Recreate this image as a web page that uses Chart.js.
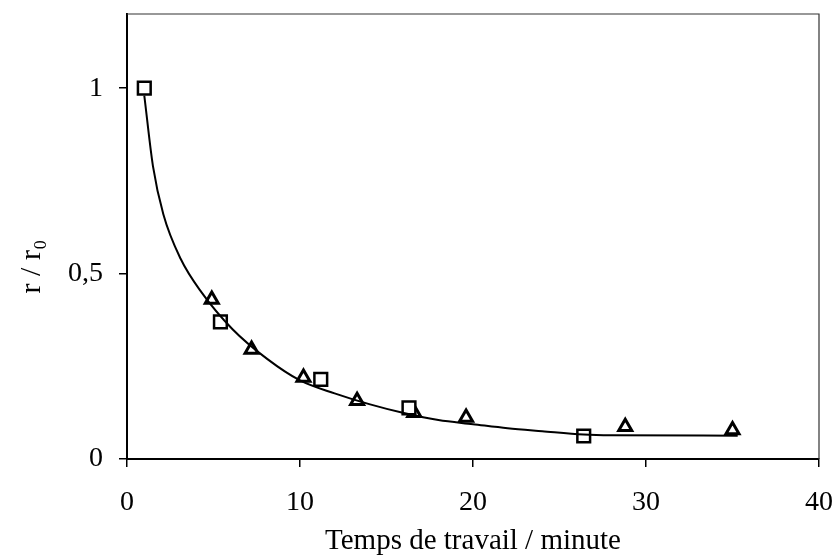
<!DOCTYPE html>
<html>
<head>
<meta charset="utf-8">
<script src="https://cdn.jsdelivr.net/npm/chart.js@4"></script>
<style>
  body { margin: 0; background: #fff; }
  #wrap { width: 834px; height: 559px; }
</style>
</head>
<body>
<div id="wrap"><canvas id="chartrendement"></canvas></div>
<script>
// points
const squareX = [1.0, 5.4, 11.2, 16.3, 26.4];
const squareY = [1.0, 0.37, 0.215, 0.138, 0.062];
const triangleX = [4.9, 7.2, 10.2, 13.3, 16.6, 19.6, 28.8, 35.0];
const triangleY = [0.43, 0.295, 0.22, 0.157, 0.125, 0.112, 0.087, 0.078];
// courbe d'ajustement
const curveX = [1.0, 1.5, 2.1, 3.1, 4.3, 6.1, 8.1, 10.0, 12.0, 14.0, 16.0, 18.0, 20.0, 22.0, 24.0, 26.4, 28.0, 35.3];
const curveY = [0.98, 0.79, 0.66, 0.54, 0.45, 0.35, 0.27, 0.212, 0.177, 0.148, 0.124, 0.105, 0.094, 0.083, 0.075, 0.066, 0.064, 0.063];
const xTicks = [0, 10, 20, 30, 40];
const yTicks = [0, 0.5, 1];

const pts = (xs, ys) => xs.map((x, i) => ({ x: x, y: ys[i] }));
const serif = 'Liberation Serif';

// pas de marge auto pour les labels qui depassent
const noPad = s => { s.paddingTop = 0; s.paddingBottom = 0; s.paddingLeft = 0; s.paddingRight = 0; };

// cadre haut / droite
const boxPlugin = {
    id: 'box',
    afterDraw(chart) {
        const a = chart.chartArea;
        const c = chart.ctx;
        c.save();
        c.strokeStyle = '#333';
        c.lineWidth = 1.2;
        c.beginPath();
        c.moveTo(a.left, a.top);
        c.lineTo(a.right, a.top);
        c.lineTo(a.right, a.bottom);
        c.stroke();
        c.restore();
    }
};

document.addEventListener('DOMContentLoaded', () => {
    const ctx = document.getElementById('chartrendement');

    new Chart(ctx, {
        type: 'scatter',
        data: {
            datasets: [
                {
                    label: 'ajustement',
                    type: 'line',
                    data: pts(curveX, curveY),
                    borderColor: '#000',
                    borderWidth: 2,
                    pointRadius: 0,
                    cubicInterpolationMode: 'monotone',
                    fill: false
                },
                {
                    label: 'carrés',
                    data: pts(squareX, squareY),
                    pointStyle: 'rect',
                    pointRadius: 9,
                    borderColor: '#000',
                    backgroundColor: '#fff',
                    borderWidth: 2.5
                },
                {
                    label: 'triangles',
                    data: pts(triangleX, triangleY),
                    pointStyle: 'triangle',
                    pointRadius: 7.5,
                    borderColor: '#000',
                    backgroundColor: '#fff',
                    borderWidth: 3
                }
            ]
        },
        options: {
            responsive: true,
            maintainAspectRatio: false,
            animation: false,
            layout: { padding: { top: 14, right: 15, left: 0, bottom: 0 } },
            plugins: {
                legend: { display: false },
                tooltip: { enabled: false }
            },
            scales: {
                x: {
                    type: 'linear',
                    min: 0,
                    max: 40,
                    afterFit: s => { s.height = 100; noPad(s); },
                    afterBuildTicks: s => { s.ticks = xTicks.map(v => ({ value: v })); },
                    border: { display: true, color: '#000', width: 2 },
                    grid: { drawOnChartArea: false, color: '#000', tickLength: 8, lineWidth: 1.5 },
                    ticks: {
                        color: '#000',
                        padding: 19,
                        maxRotation: 0,
                        font: { family: serif, size: 28 }
                    },
                    title: {
                        display: true,
                        text: 'Temps de travail / minute',
                        color: '#000',
                        padding: { top: 0, bottom: 0 },
                        font: { family: serif, size: 29 }
                    }
                },
                y: {
                    type: 'linear',
                    min: 0,
                    max: 1.2,
                    afterFit: s => { s.width = 127; noPad(s); },
                    afterBuildTicks: s => { s.ticks = yTicks.map(v => ({ value: v })); },
                    border: { display: true, color: '#000', width: 2 },
                    grid: { drawOnChartArea: false, color: '#000', tickLength: 8, lineWidth: 1.5 },
                    ticks: {
                        color: '#000',
                        padding: 16,
                        font: { family: serif, size: 28 },
                        callback: v => String(v).replace('.', ',')
                    },
                    title: {
                        display: true,
                        // espaces en fin pour descendre le titre comme sur l'original
                        text: 'r / r₀        ',
                        color: '#000',
                        padding: { top: 14, bottom: 0 },
                        font: { family: serif, size: 30 }
                    }
                }
            }
        },
        plugins: [boxPlugin]
    });
});
</script>
</body>
</html>
